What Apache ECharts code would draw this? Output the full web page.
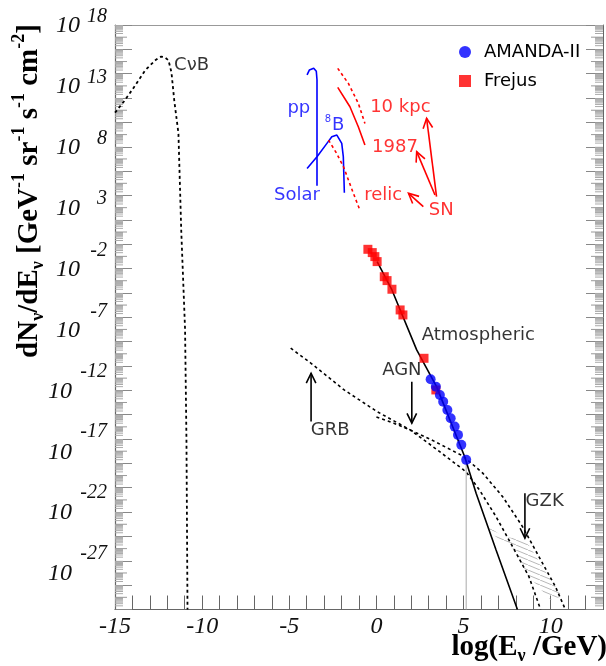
<!DOCTYPE html>
<html><head><meta charset="utf-8">
<script src="https://cdn.jsdelivr.net/npm/echarts@6/dist/echarts.min.js"></script>
<style>html,body{margin:0;padding:0;background:#fff}#c{width:606px;height:666px}</style>
</head><body><div id="c"></div>
<script>
// ---- axis ranges / tick labels ----
const xMin = -15, xMax = 13;
const yMin = -30, yMax = 18;
const yLabelValues = [18, 13, 8, 3, -2, -7, -12, -17, -22, -27];
const xLabelValues = [-15, -10, -5, 0, 5, 10];

// ---- CνB (cosmic neutrino background) ----
const cnbX = [-15, -14.5, -14.02, -13.26, -12.69, -12.5, -12.35, -12.15, -11.93, -11.76, -11.6, -11.36, -11.2, -10.98, -10.9, -10.84];
const cnbV = [10.8, 11.7, 12.66, 14.3, 15.1, 15.3, 15.4, 15.35, 15.1, 14.1, 11.8, 9.1, 1.15, -7, -16.1, -30];

// ---- Solar ----
const ppX = [-3.98, -3.85, -3.6, -3.45, -3.41, -3.41];
const ppV = [13.9, 14.3, 14.45, 14.2, 13.5, 4.8];
const b8X = [-3.98, -3.41, -2.84, -2.56, -2.27, -1.99, -1.9, -1.84];
const b8V = [6.22, 7.18, 8.28, 8.82, 8.96, 8.28, 7.18, 4.22];

// ---- Supernova ----
const relicX = [-2.75, -2.3, -1.89, -1.32, -0.95];
const relicV = [8.55, 7.5, 6.36, 4.17, 2.8];
const sn87X = [-2.22, -1.52, -1.04, -0.66];
const sn87V = [12.88, 11.29, 9.64, 8.14];
const kpcX = [-2.22, -1.61, -1.04, -0.66];
const kpcV = [14.44, 13.2, 11.57, 9.92];

// ---- Atmospheric ----
const atmX = [0.04, 0.89, 2.31, 3.45, 5.06, 5.72, 6.86, 8.09];
const atmV = [-1.43, -3.76, -8.68, -11.70, -17.44, -20.45, -25.1, -30];

// ---- GRB / AGN models ----
const grbX = [-4.92, -3.75, -1.85, 0.04, 1.94, 3.5, 4.97, 5.2, 5.91, 6.86, 7.81, 8.75, 9.42];
const grbV = [-8.54, -9.78, -11.97, -13.75, -15.25, -16.9, -18.5, -18.8, -20.18, -22.37, -24.83, -27.3, -30];
const agnX = [0.0, 1.0, 2.0, 3.07, 4.97, 6.1, 7.24, 8.38, 9.32, 10.27, 10.84];
const agnV = [-14.2, -14.7, -15.3, -16.0, -17.4, -18.8, -20.73, -23.19, -25.65, -28.12, -30];

// ---- GZK band (polygon) ----
const gzkX = [6.29, 7.24, 8.56, 9.51, 10.65, 9.98, 8.75, 7.81, 6.86];
const gzkV = [-23.05, -24.01, -24.28, -26.47, -28.94, -29.2, -27.3, -24.94, -24.04];

// ---- Data points ----
const amandaX = [3.11, 3.41, 3.64, 3.83, 4.07, 4.26, 4.49, 4.68, 4.87, 5.15];
const amandaV = [-11.09, -11.70, -12.38, -12.93, -13.61, -14.29, -14.98, -15.66, -16.48, -17.71];
const frejusX = [-0.49, -0.24, -0.09, 0.04, 0.45, 0.61, 0.89, 1.36, 1.52, 2.73, 3.41];
const frejusV = [-0.42, -0.69, -1.02, -1.43, -2.67, -2.99, -3.70, -5.4, -5.81, -9.37, -11.97];

// ---- upper-limit line below last AMANDA point ----
const limX = [5.15, 5.15];
const limV = [-17.71, -30];

// ---- annotations ----
const annoText = ['CνB', 'pp', '{sup|8}B', 'Solar', '10 kpc', '1987', 'relic', 'SN', 'Atmospheric', 'AGN', 'GRB', 'GZK'];
const annoX = [-11.61, -4.45, -2.97, -3.24, -0.36, -0.25, -0.70, 3.0, 2.6, 1.46, -3.77, 8.56];
const annoV = [14.72, 11.19, 9.79, 4.04, 11.27, 7.98, 4.04, 2.81, -7.45, -10.33, -15.25, -21.08];
const annoColor = ['#000', '#0000ff', '#0000ff', '#0000ff', '#ff0000', '#ff0000', '#ff0000', '#ff0000', '#000', '#000', '#000', '#000'];
const annoAlign = ['left', 'center', 'left', 'right', 'left', 'left', 'left', 'left', 'left', 'center', 'left', 'left'];

// ---- arrows [from -> to] ----
const arrowX1 = [3.45, 3.36, 2.69, -3.75, 2.03, 8.52];
const arrowV1 = [3.9, 4.04, 3.08, -14.57, -11.29, -20.45];
const arrowX2 = [2.88, 2.31, 1.84, -3.75, 2.03, 8.52];
const arrowV2 = [10.34, 7.6, 4.18, -10.6, -14.7, -24.14];
const arrowColor = ['#ff0000', '#ff0000', '#ff0000', '#000', '#000', '#000'];

function pairs(xs, vs) { return xs.map((x, i) => [x, vs[i]]); }

// minor log ticks
const minorTickVals = [];
for (let n = yMin; n < yMax; n++) {
  for (let k = 2; k <= 9; k++) minorTickVals.push(n + Math.log10(k));
}
const oddDecades = [];
for (let n = yMin + 1; n < yMax; n += 2) oddDecades.push(n);

// hatch pattern
const pat = document.createElement('canvas');
pat.width = 12; pat.height = 5;
(function(){
  const g = pat.getContext('2d');
  g.strokeStyle = '#b8b8b8'; g.lineWidth = 1;
  g.beginPath(); g.moveTo(0, 0); g.lineTo(12, 5); g.stroke();
})();

const serif = 'Liberation Serif';
const sans = 'DejaVu Sans';

function lineSeries(name, xs, vs, color, type, width) {
  return {
    name: name, type: 'line', data: pairs(xs, vs), showSymbol: false, symbol: 'none',
    lineStyle: { color: color, width: width || 1.6, type: type || 'solid' },
    z: 3, silent: true
  };
}

function yLabel(v) {
  if (yLabelValues.indexOf(v) < 0) return '';
  const s = String(v);
  let st = 'ep';
  if (v < 0) st = s.length >= 3 ? 'en3' : 'en2';
  return '{b|10}{' + st + '|' + s + '}';
}
const expBase = { fontFamily: serif, fontStyle: 'italic', fontSize: 20, color: '#111', verticalAlign: 'middle', align: 'right' };

const chart = echarts.init(document.getElementById('c'), null, { renderer: 'canvas' });
const option = {
  animation: false,
  backgroundColor: '#fff',
  grid: { left: 115, right: -2, top: 25, bottom: 56.5, containLabel: false },
  legend: {
    data: ['AMANDA-II', 'Frejus'], orient: 'vertical', left: 454, top: 38,
    itemWidth: 12, itemHeight: 12, itemGap: 11,
    textStyle: { fontFamily: sans, fontSize: 18, color: '#000', padding: [0, 0, 0, 8] }
  },
  xAxis: [{
    type: 'value', min: xMin, max: xMax, interval: 1,
    axisLine: { onZero: false, lineStyle: { color: '#666', width: 1.2 } },
    axisTick: { inside: true, length: 14, lineStyle: { color: '#666' } },
    splitLine: { show: false },
    axisLabel: {
      margin: 5, fontFamily: serif, fontStyle: 'italic', fontSize: 24, color: '#111',
      formatter: v => xLabelValues.indexOf(v) >= 0 ? String(v) : ''
    }
  }, {
    type: 'value', position: 'top', min: xMin, max: xMax,
    axisLine: { show: true, onZero: false, lineStyle: { color: '#999' } },
    axisTick: { show: false }, axisLabel: { show: false }, splitLine: { show: false }
  }],
  yAxis: [{
    type: 'value', min: yMin, max: yMax, interval: 2,
    axisLine: { onZero: false, lineStyle: { color: '#666', width: 1.2 } },
    axisTick: { inside: true, length: 17, lineStyle: { color: '#888' } },
    splitLine: { show: false }, axisLabel: { show: false }
  }, {
    type: 'value', min: yMin, max: yMax, interval: 1, position: 'left',
    axisLine: { show: false, onZero: false }, axisTick: { show: false }, splitLine: { show: false },
    axisLabel: {
      margin: 8,
      formatter: yLabel,
      rich: {
        b: { fontFamily: serif, fontStyle: 'italic', fontSize: 24, color: '#111', verticalAlign: 'middle', padding: [2, 0, 0, 0] },
        ep: Object.assign({}, expBase, { width: 27, padding: [0, 0, 17, 0] }),
        en2: Object.assign({}, expBase, { width: 27, padding: [0, 0, 36, 0] }),
        en3: Object.assign({}, expBase, { width: 35, padding: [0, 0, 38, 0] })
      }
    }
  }, {
    type: 'value', min: yMin, max: yMax, interval: 2, position: 'right',
    axisLine: { show: true, onZero: false, lineStyle: { color: '#666' } },
    axisTick: { inside: true, length: 17, lineStyle: { color: '#888' } },
    splitLine: { show: false }, axisLabel: { show: false }
  }],
  graphic: [{
    type: 'text', x: 30, y: 191, rotation: Math.PI / 2,
    style: {
      text: '{t|dN}{s|ν}{t|/dE}{s|ν}{t| [GeV}{p|-1}{t| sr}{p|-1}{t| s}{p|-1}{t| cm}{p|-2}{t|]}',
      align: 'center', verticalAlign: 'middle',
      rich: {
        t: { fontFamily: serif, fontWeight: 'bold', fontSize: 29, fill: '#000', verticalAlign: 'middle' },
        s: { fontFamily: serif, fontWeight: 'bold', fontSize: 18, fill: '#000', verticalAlign: 'middle', padding: [16, 0, 0, 0] },
        p: { fontFamily: serif, fontWeight: 'bold', fontSize: 18, fill: '#000', verticalAlign: 'middle', padding: [0, 0, 22, 0] }
      }
    }
  }, {
    type: 'text', x: 607, y: 648,
    style: {
      text: '{t|log(E}{s|ν}{t| /GeV)}',
      align: 'right', verticalAlign: 'middle',
      rich: {
        t: { fontFamily: serif, fontWeight: 'bold', fontSize: 29, fill: '#000', verticalAlign: 'middle' },
        s: { fontFamily: serif, fontWeight: 'bold', fontSize: 18, fill: '#000', verticalAlign: 'middle', padding: [16, 0, 0, 0] }
      }
    }
  }],
  series: [
    {
      name: 'minorTicks', type: 'custom', silent: true, z: 1,
      data: minorTickVals.map(v => [v]),
      renderItem: function (params, api) {
        const v = api.value(0);
        const pl = api.coord([xMin, v]);
        const pr = api.coord([xMax, v]);
        const st = { stroke: '#aaa', lineWidth: 1 };
        return { type: 'group', children: [
          { type: 'line', shape: { x1: pl[0], y1: pl[1], x2: pl[0] + 8, y2: pl[1] }, style: st },
          { type: 'line', shape: { x1: pr[0], y1: pr[1], x2: pr[0] - 8, y2: pr[1] }, style: st }
        ]};
      }
    },
    {
      name: 'oddTicks', type: 'custom', silent: true, z: 1,
      data: oddDecades.map(v => [v]),
      renderItem: function (params, api) {
        const v = api.value(0);
        const pl = api.coord([xMin, v]);
        const pr = api.coord([xMax, v]);
        const st = { stroke: '#999', lineWidth: 1 };
        return { type: 'group', children: [
          { type: 'line', shape: { x1: pl[0], y1: pl[1], x2: pl[0] + 12, y2: pl[1] }, style: st },
          { type: 'line', shape: { x1: pr[0], y1: pr[1], x2: pr[0] - 12, y2: pr[1] }, style: st }
        ]};
      }
    },
    {
      name: 'GZKband', type: 'custom', silent: true, z: 2,
      data: [[0]],
      renderItem: function (params, api) {
        const pts = gzkX.map((x, i) => api.coord([x, gzkV[i]]));
        return { type: 'polygon', shape: { points: pts }, style: { fill: { image: pat, repeat: 'repeat' }, stroke: null } };
      }
    },
    lineSeries('CνB', cnbX, cnbV, '#000', [3, 3], 1.8),
    lineSeries('pp', ppX, ppV, '#0000ff', 'solid', 1.6),
    lineSeries('8B', b8X, b8V, '#0000ff', 'solid', 1.6),
    lineSeries('relic', relicX, relicV, '#ff0000', [3, 3], 1.6),
    lineSeries('1987', sn87X, sn87V, '#ff0000', 'solid', 1.6),
    lineSeries('10kpc', kpcX, kpcV, '#ff0000', [3, 3], 1.6),
    lineSeries('GRB', grbX, grbV, '#000', [3, 3], 1.6),
    lineSeries('AGN', agnX, agnV, '#000', [3, 3], 1.6),
    lineSeries('limit', limX, limV, '#aaa', 'solid', 1),
    lineSeries('Atmospheric', atmX, atmV, '#000', 'solid', 1.6),
    {
      name: 'Frejus', type: 'scatter', symbol: 'rect', symbolSize: 9,
      itemStyle: { color: '#ff0000' }, data: pairs(frejusX, frejusV), z: 5
    },
    {
      name: 'AMANDA-II', type: 'scatter', symbol: 'circle', symbolSize: 10,
      itemStyle: { color: '#0000ff' }, data: pairs(amandaX, amandaV), z: 6
    },
    {
      name: 'arrows', type: 'custom', silent: true, z: 4,
      data: arrowX1.map((x, i) => [x, arrowV1[i], arrowX2[i], arrowV2[i], i]),
      renderItem: function (params, api) {
        const i = api.value(4);
        const a = api.coord([api.value(0), api.value(1)]);
        const b = api.coord([api.value(2), api.value(3)]);
        const ang = Math.atan2(b[1] - a[1], b[0] - a[0]);
        const L = 11, w = 0.45;
        const h1 = [b[0] - L * Math.cos(ang - w), b[1] - L * Math.sin(ang - w)];
        const h2 = [b[0] - L * Math.cos(ang + w), b[1] - L * Math.sin(ang + w)];
        const st = { stroke: arrowColor[i], lineWidth: 1.6, fill: null };
        return { type: 'group', children: [
          { type: 'line', shape: { x1: a[0], y1: a[1], x2: b[0], y2: b[1] }, style: st },
          { type: 'polyline', shape: { points: [h1, b, h2] }, style: st }
        ]};
      }
    },
    {
      name: 'annotations', type: 'scatter', symbolSize: 0, silent: true, z: 7,
      data: annoText.map((t, i) => ({
        value: [annoX[i], annoV[i]],
        label: {
          show: true, position: 'inside', formatter: t, align: annoAlign[i], verticalAlign: 'middle',
          color: annoColor[i], fontFamily: sans, fontSize: 18,
          rich: { sup: { fontFamily: sans, fontSize: 10, color: annoColor[i], verticalAlign: 'middle', padding: [0, 1, 12, 0] } }
        }
      })),
      itemStyle: { color: 'transparent' }
    }
  ]
};
chart.setOption(option);
</script></body></html>
